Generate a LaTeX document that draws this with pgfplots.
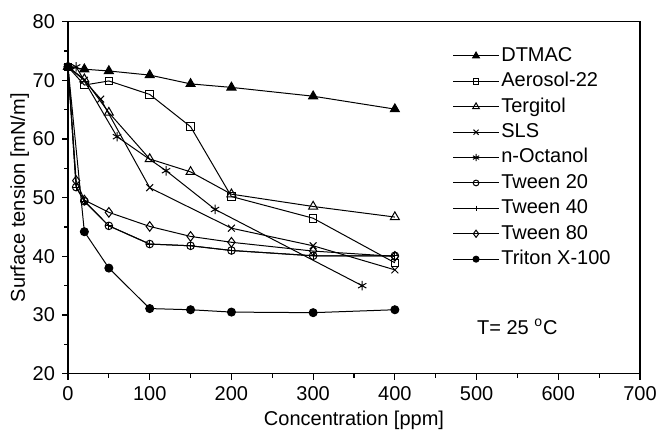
\documentclass[border=0pt]{standalone}
\usepackage{fontspec}
\setmainfont{Liberation Sans}
\usepackage{pgfplots}
\pgfplotsset{compat=1.18}

\begin{document}
\begin{tikzpicture}
\begin{axis}[
  scale only axis,
  width=286pt, height=176pt,
  xmin=0, xmax=700, ymin=20, ymax=80,
  xtick={0,100,...,700}, ytick={20,30,...,80},
  minor x tick num=1, minor y tick num=1,
  tick align=outside, tick pos=left,
  major tick length=3pt, minor tick length=2pt,
  axis line style={line width=0.7pt},
  every tick/.style={black, line width=0.6pt},
  font=\fontsize{10}{12}\selectfont,
  /pgf/number format/assume math mode=true,
  xlabel={Concentration [ppm]},
  ylabel={Surface tension [mN/m]},
  xlabel style={yshift=2pt},
  ylabel style={yshift=-5pt},
  legend cell align=left,
  legend image code/.code={%
    \draw[mark repeat=2,mark phase=2,#1,mark options={scale=0.75}]
      plot coordinates {(0cm,0cm)(0.4cm,0cm)(0.8cm,0cm)};},
  legend style={draw=none, fill=none, at={(0.672,0.937)}, anchor=north west,
    inner sep=0pt, row sep=1pt, font=\fontsize{10}{12}\selectfont,
    nodes={inner sep=1pt, text height=7.5pt, text depth=2.2pt}},
]
% DTMAC
\addplot[black, line width=0.5pt, mark=triangle*, mark size=2.6pt, mark options={solid, fill=black}] coordinates {
  (0,72.3) (20,71.9) (50,71.6) (100,70.9) (150,69.4) (200,68.8) (300,67.3) (400,65.1)};
% Aerosol-22
\addplot[black, line width=0.5pt, mark=square, mark size=1.9pt, mark options={solid}] coordinates {
  (0,72.3) (20,69.2) (50,69.9) (100,67.6) (150,62.1) (200,50.2) (300,46.5) (400,38.9)};
% Tergitol
\addplot[black, line width=0.5pt, mark=triangle, mark size=2.6pt, mark options={solid}] coordinates {
  (0,72.3) (20,70.2) (50,64.5) (100,56.6) (150,54.4) (200,50.6) (300,48.5) (400,46.7)};
% SLS
\addplot[black, line width=0.5pt, mark=x, mark size=2.4pt, mark options={solid}] coordinates {
  (0,72.3) (20,70.0) (40,66.8) (100,51.7) (200,44.8) (300,41.8) (400,37.7)};
% n-Octanol
\addplot[black, line width=0.5pt, mark=asterisk, mark size=2.4pt, mark options={solid}] coordinates {
  (0,72.3) (10,72.3) (60,60.4) (120,54.6) (180,48.0) (360,35.0)};
% Tween 20
\addplot[black, line width=0.5pt, mark=o, mark size=1.9pt, mark options={solid}] coordinates {
  (0,72.3) (10,51.8) (20,49.4) (50,45.2) (100,42.1) (150,41.8) (200,41.0) (300,40.1) (400,40.1)};
% Tween 40
\addplot[black, line width=0.5pt, mark=+, mark size=1.9pt, mark options={solid}] coordinates {
  (0,72.3) (10,51.8) (20,49.4) (50,45.2) (100,42.1) (150,41.8) (200,41.0) (300,40.1) (400,40.1)};
% Tween 80
\addplot[black, line width=0.5pt, mark=diamond, mark size=2.4pt, mark options={solid}] coordinates {
  (0,72.3) (10,52.9) (20,49.6) (50,47.5) (100,45.1) (150,43.4) (200,42.4) (300,40.9) (400,40.0)};
% Triton X-100
\addplot[black, line width=0.5pt, mark=*, mark size=2.0pt, mark options={solid, fill=black}] coordinates {
  (0,72.3) (20,44.2) (50,38.0) (100,31.1) (150,30.9) (200,30.5) (300,30.4) (400,30.9)};
\legend{DTMAC, Aerosol-22, Tergitol, SLS, n-Octanol, Tween 20, Tween 40, Tween 80, Triton X-100}
\node[anchor=west, font=\fontsize{10}{12}\selectfont] at (axis cs:492,28.0) {T= 25 \textsuperscript{o}C};
\end{axis}
\pgfresetboundingbox
\path[use as bounding box] ([xshift=-34pt,yshift=-27.7pt]current axis.south west)
  rectangle ([xshift=8.5pt,yshift=10.85pt]current axis.north east);
\end{tikzpicture}
\end{document}
